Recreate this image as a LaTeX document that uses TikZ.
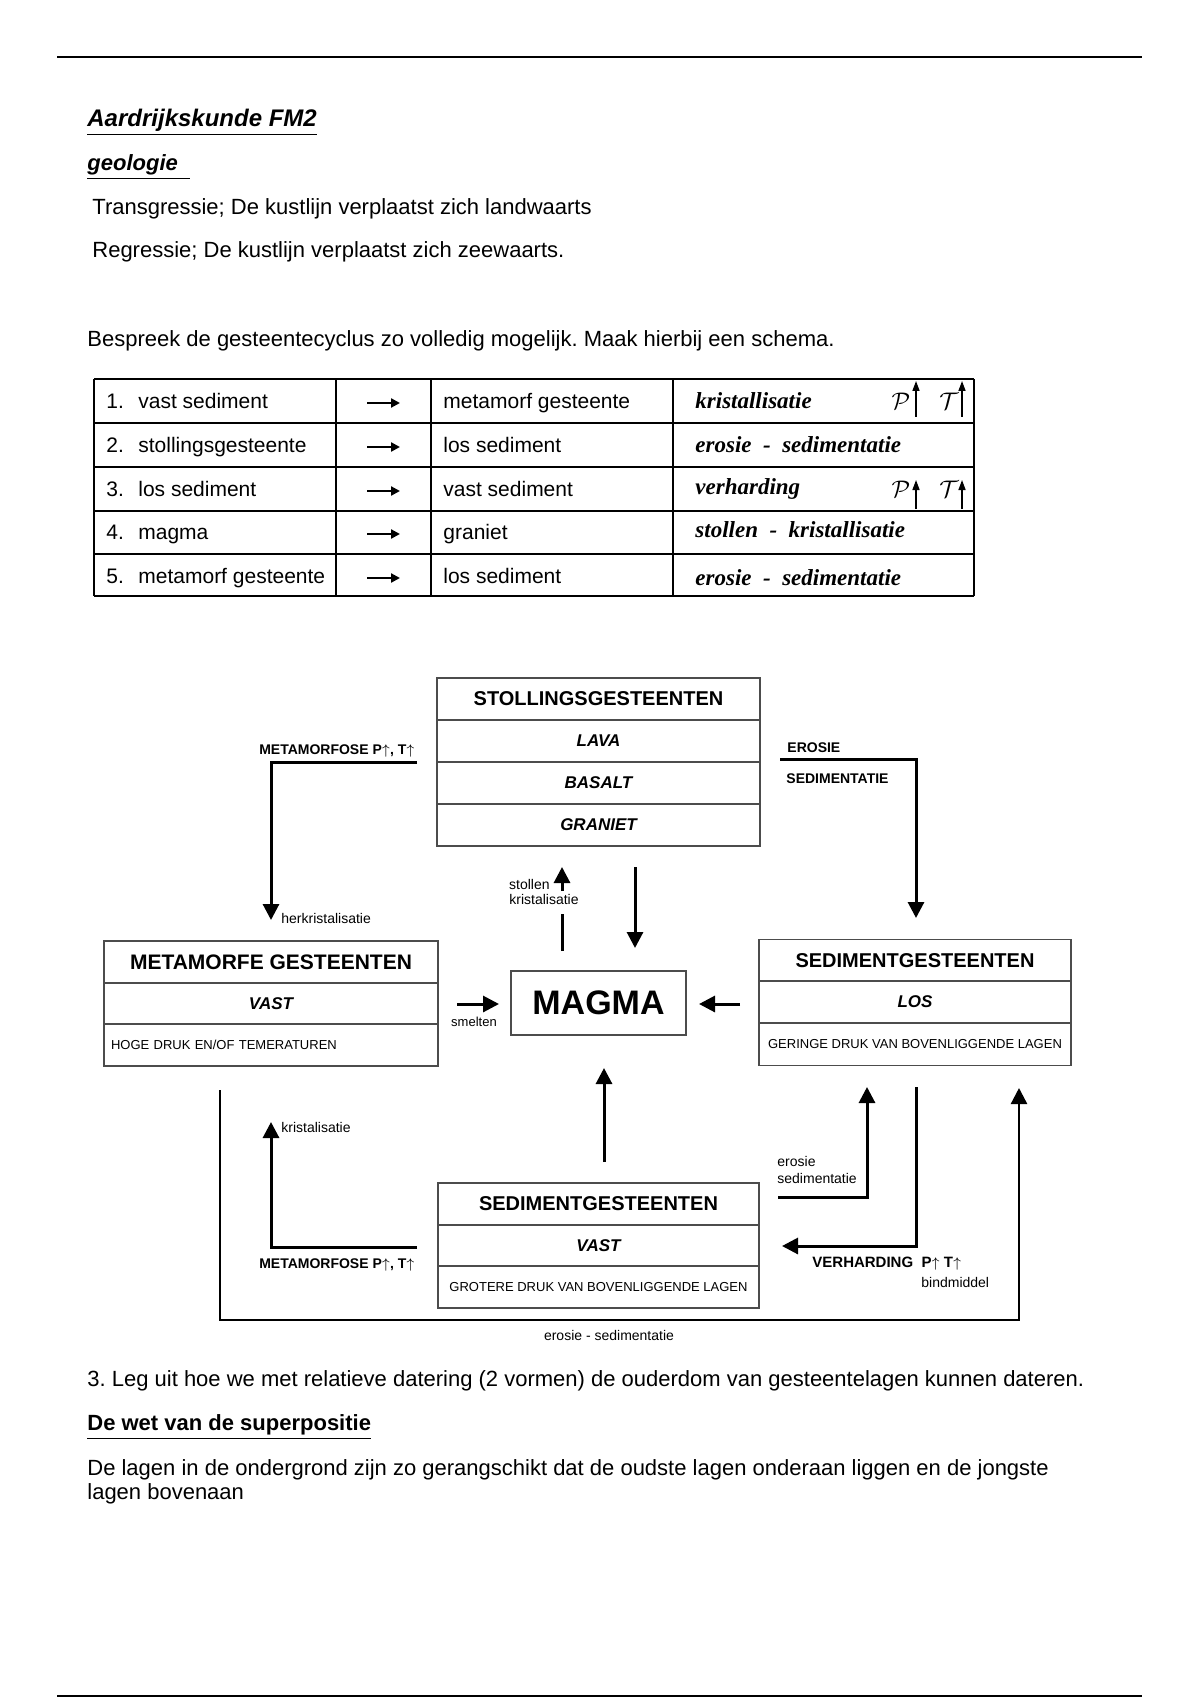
\documentclass[tikz,border=0pt]{standalone}
\usepackage{fontspec}
\setmainfont{Liberation Sans}
\newfontfamily\tnr{Liberation Serif}
\usetikzlibrary{arrows.meta}

\tikzset{
  txt/.style={anchor=west, inner sep=0pt, font=\fontsize{11}{13.5}\selectfont},
  cel/.style={anchor=west, inner sep=0pt, text height=0.75em, text depth=0.22em, font=\fontsize{10.5}{12}\selectfont},
  proc/.style={anchor=west, inner sep=0pt, font=\fontsize{11.5}{13}\selectfont\tnr\bfseries\itshape},
  vak/.style={draw=black!70, line width=0.8pt, inner sep=0pt, minimum height=21pt},
  kop/.style={vak, font=\fontsize{10}{12}\selectfont\bfseries},
  sub/.style={vak, font=\fontsize{8.5}{10}\selectfont\bfseries\itshape},
  klein/.style={vak, font=\fontsize{6.5}{8}\selectfont},
  pijl/.style={line width=1.5pt, -{Triangle[width=8pt,length=8pt]}},
  tabpijl/.style={line width=1.1pt, -{Triangle[width=4.5pt,length=4.5pt]}},
  lijn/.style={line width=1.5pt},
  lbl/.style={inner sep=0pt, font=\fontsize{7}{8}\selectfont},
  blbl/.style={inner sep=0pt, font=\fontsize{7.5}{9}\selectfont\bfseries},
}

\begin{document}
\frenchspacing
\begin{tikzpicture}[x=0.5pt,y=-0.5pt]
\useasboundingbox (0,0) rectangle (1200,1700);
% kop- en voetlijn
\draw[line width=0.8pt] (57,57) -- (1142,57);
\draw[line width=0.8pt] (57,1696) -- (1142,1696);

% tekst boven
\node[txt, font=\fontsize{12}{14}\selectfont\bfseries\itshape] (titel) at (87,122) {\underline{Aardrijkskunde FM2}};
\node[txt, font=\fontsize{11}{13}\selectfont\bfseries\itshape] (geo) at (87,167) {\underline{geologie\ \ }};
\node[txt] (trans) at (92,209) {Transgressie; De kustlijn verplaatst zich landwaarts};
\node[txt] (regr) at (92,252) {Regressie; De kustlijn verplaatst zich zeewaarts.};
\node[txt] (vraag) at (87,341) {Bespreek de gesteentecyclus zo volledig mogelijk. Maak hierbij een schema.};

% tabel
\foreach \y in {379,423,467,511,554,596} \draw[line width=0.9pt] (94,\y) -- (974,\y);
\foreach \x in {94,336,431,673,974} \draw[line width=0.9pt] (\x,379) -- (\x,596);
\foreach \n/\y/\z/\a/\b/\c in {1/403/401/vast sediment/metamorf gesteente/kristallisatie,
    2/447/445/stollingsgesteente/los sediment/erosie~~-~~sedimentatie,
    3/491/489/los sediment/vast sediment/verharding,
    4/534/530/magma/graniet/stollen~~-~~kristallisatie,
    5/578/578/metamorf gesteente/los sediment/erosie~~-~~sedimentatie}{
  \node[cel] (nr\n) at (106,\y) {\n.};
  \node[cel] (van\n) at (138,\y) {\a};
  \coordinate (pa\n) at (367,\y);
  \coordinate (pb\n) at (400,\y);
  \draw[tabpijl] (pa\n) -- (pb\n);
  \node[cel] (naar\n) at (443,\y) {\b};
  \node[proc] (proc\n) at (695,\z) {\c};
}
\foreach \r/\y/\t/\b in {1/401/381/417, 3/489/480/509}{
  \node[proc, anchor=center] (pp\r) at (901,\y) {$\mathcal{P}$};
  \node[proc, anchor=center] (tt\r) at (949,\y) {$\mathcal{T}$};
  \draw[line width=0.7pt, -{Triangle[width=3.5pt,length=5pt]}] (916,\b) -- (916,\t);
  \draw[line width=0.7pt, -{Triangle[width=3.5pt,length=5pt]}] (962,\b) -- (962,\t);
}

% schema gesteentecyclus
\node[kop, minimum width=161.5pt] (stol1) at (598.5,699) {STOLLINGSGESTEENTEN};
\node[sub, minimum width=161.5pt] (stol2) at (598.5,741) {LAVA};
\node[sub, minimum width=161.5pt] (stol3) at (598.5,783) {BASALT};
\node[sub, minimum width=161.5pt] (stol4) at (598.5,825) {GRANIET};

\node[kop, minimum width=167pt, font=\fontsize{10.5}{12}\selectfont\bfseries] (meta1) at (271,962) {METAMORFE GESTEENTEN};
\node[sub, minimum width=167pt] (meta2) at (271,1003.5) {VAST};
\node[klein, minimum width=167pt, text width=160pt, inner xsep=3.5pt, align=left] (meta3) at (271,1045) {HOGE DRUK EN/OF TEMERATUREN};

\node[kop, minimum width=156pt] (los1) at (915,960.5) {SEDIMENTGESTEENTEN};
\node[sub, minimum width=156pt] (los2) at (915,1002) {LOS};
\node[klein, minimum width=156pt] (los3) at (915,1044.5) {GERINGE DRUK VAN BOVENLIGGENDE LAGEN};

\node[kop, minimum width=160.5pt] (vast1) at (598.5,1204) {SEDIMENTGESTEENTEN};
\node[sub, minimum width=160.5pt] (vast2) at (598.5,1245.5) {VAST};
\node[klein, minimum width=160.5pt] (vast3) at (598.5,1287) {GROTERE DRUK VAN BOVENLIGGENDE LAGEN};

\node[draw=black!70, line width=0.8pt, minimum width=87.5pt, minimum height=32pt, inner sep=0pt,
  font=\fontsize{17}{20}\selectfont\bfseries] (magma) at (598.5,1003) {MAGMA};

% pijlen boven
\coordinate (mt1) at (417,762); \coordinate (mt2) at (271,762); \coordinate (mt3) at (271,920);
\draw[pijl] (mt1) -- (mt2) -- (mt3);
\node[blbl, anchor=east, font=\fontsize{7}{8}\selectfont\bfseries] (metalbl1) at (415,751) {METAMORFOSE P$\uparrow$, T$\uparrow$};
\node[lbl, anchor=west] (herk) at (281,918) {herkristalisatie};

\coordinate (er1) at (780,759); \coordinate (er2) at (916,759); \coordinate (er3) at (916,918);
\draw[pijl] (er1) -- (er2) -- (er3);
\node[blbl, anchor=west, font=\fontsize{7}{8}\selectfont\bfseries] (erlbl) at (787,748) {EROSIE};
\node[blbl, anchor=west, font=\fontsize{7}{8}\selectfont\bfseries] (sedlbl) at (786,779) {SEDIMENTATIE};

\coordinate (sm1) at (635,867); \coordinate (sm2) at (635,948);
\draw[pijl] (sm1) -- (sm2);
\coordinate (so1) at (562,951); \coordinate (so2) at (562,914);
\coordinate (so3) at (562,891); \coordinate (so4) at (562,867);
\draw[lijn] (so1) -- (so2);
\draw[pijl] (so3) -- (so4);
\node[lbl, anchor=east] (stollbl) at (550,884) {stollen};
\node[lbl] (krlbl) at (544,899) {kristalisatie};

% pijlen midden
\coordinate (me1) at (457,1004); \coordinate (me2) at (499,1004);
\draw[pijl] (me1) -- (me2);
\node[lbl, font=\fontsize{6.5}{8}\selectfont] (smelt) at (474,1022) {smelten};
\coordinate (lo1) at (740,1004); \coordinate (lo2) at (699,1004);
\draw[pijl] (lo1) -- (lo2);
\coordinate (va1) at (604,1162); \coordinate (va2) at (604,1068);
\draw[pijl] (va1) -- (va2);

% pijlen onder
\coordinate (mo1) at (417,1247); \coordinate (mo2) at (271,1247); \coordinate (mo3) at (271,1122);
\draw[pijl] (mo1) -- (mo2) -- (mo3);
\node[lbl, anchor=west] (kris) at (281,1127) {kristalisatie};
\node[blbl, anchor=east, font=\fontsize{7}{8}\selectfont\bfseries] (metalbl2) at (415,1265) {METAMORFOSE P$\uparrow$, T$\uparrow$};

\coordinate (lp1) at (220,1090); \coordinate (lp2) at (220,1320);
\coordinate (lp3) at (1019,1320); \coordinate (lp4) at (1019,1088);
\draw[pijl, line width=1.2pt] (lp1) -- (lp2) -- (lp3) -- (lp4);
\node[lbl] (lplbl) at (609,1335) {erosie - sedimentatie};

\coordinate (es1) at (778,1197); \coordinate (es2) at (867,1197); \coordinate (es3) at (867,1087);
\draw[pijl] (es1) -- (es2) -- (es3);
\node[lbl, anchor=west] (eslbl1) at (777,1161) {erosie};
\node[lbl, anchor=west] (eslbl2) at (777,1178) {sedimentatie};

\coordinate (vh1) at (916,1087); \coordinate (vh2) at (916,1246); \coordinate (vh3) at (782,1246);
\draw[pijl] (vh1) -- (vh2) -- (vh3);
\node[blbl, anchor=west] (vhlbl) at (812,1264) {VERHARDING\ \ P$\uparrow$ T$\uparrow$};
\node[lbl, anchor=west] (bind) at (921,1282) {bindmiddel};

% tekst onder
\node[txt] (leg) at (87,1381) {3. Leg uit hoe we met relatieve datering (2 vormen) de ouderdom van gesteentelagen kunnen dateren.};
\node[txt, font=\fontsize{11}{13}\selectfont\bfseries] (wet) at (87,1427) {\underline{De wet van de superpositie}};
\node[txt, anchor=north west, align=left, font=\fontsize{11}{12.3}\selectfont] (lagen) at (87,1459)
  {De lagen in de ondergrond zijn zo gerangschikt dat de oudste lagen onderaan liggen en de jongste\\lagen bovenaan};
\end{tikzpicture}
\end{document}
